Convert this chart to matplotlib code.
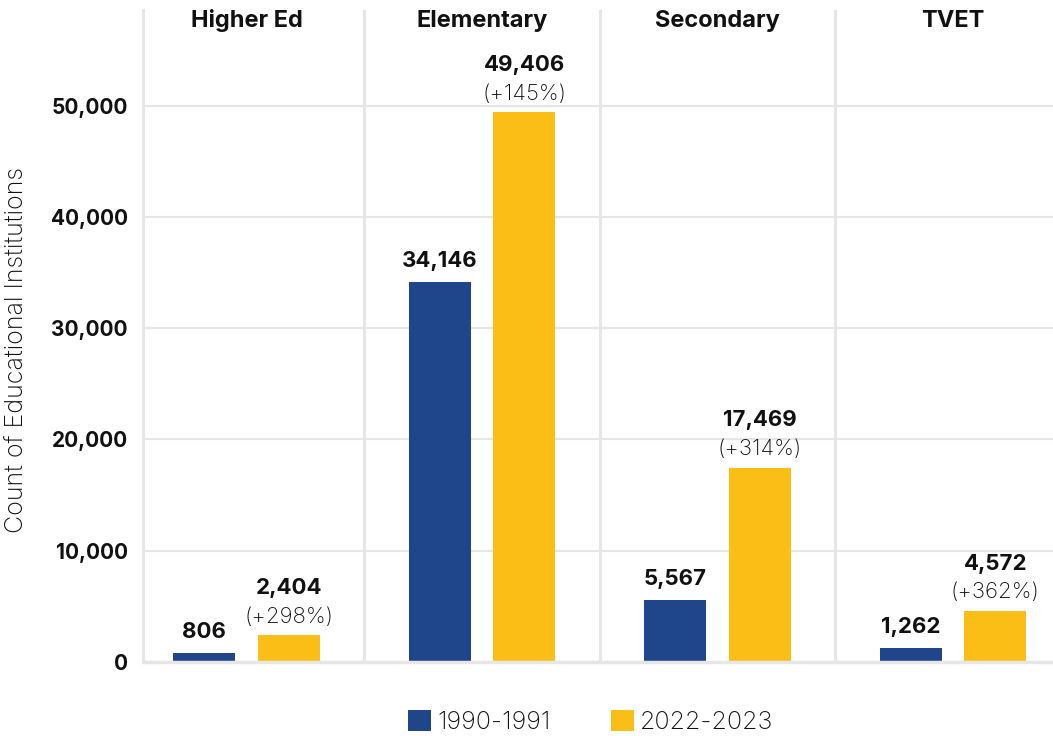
import matplotlib
matplotlib.use("Agg")
import matplotlib.pyplot as plt
from matplotlib.patches import Patch
import numpy as np

categories = ["Higher Ed", "Elementary", "Secondary", "TVET"]
series_names = ["1990-1991", "2022-2023"]
values_1990 = [806, 34146, 5567, 1262]
values_2022 = [2404, 49406, 17469, 4572]
pct_labels = ["(+298%)", "(+145%)", "(+314%)", "(+362%)"]
y_ticks = [0, 10000, 20000, 30000, 40000, 50000]

BLUE = "#1F458B"
YELLOW = "#FBBE16"
GRID = "#E6E6E6"
TEXT = "#111111"
FONT = ["Inter", "DejaVu Sans"]

plt.rcParams["font.family"] = FONT

fig = plt.figure(figsize=(10.53, 7.36), dpi=100)
ax = fig.add_axes([143 / 1053, 74 / 736, 910 / 1053, 652 / 736])

x = np.arange(len(categories))
offset = 0.18
width = 0.263

ax.bar(x - offset, values_1990, width, color=BLUE, zorder=3)
ax.bar(x + offset, values_2022, width, color=YELLOW, zorder=3)

ax.set_xlim(-0.44, 3.425)
ax.set_ylim(0, 58600)

# horizontal gridlines
ax.set_yticks(y_ticks)
ax.set_yticklabels([f"{v:,}" for v in y_ticks], fontsize=15, fontweight="bold", color=TEXT)
ax.yaxis.grid(True, color=GRID, linewidth=1.5, zorder=0)
ax.tick_params(axis="y", length=0, pad=11)
ax.set_xticks([])

# panel separators
for sep in x[:-1] + 0.5:
    ax.axvline(sep, color=GRID, linewidth=2.2, zorder=1)

for s in ["top", "right"]:
    ax.spines[s].set_visible(False)
ax.spines["left"].set_color(GRID)
ax.spines["left"].set_linewidth(2.2)
ax.spines["bottom"].set_color(GRID)
ax.spines["bottom"].set_linewidth(2.5)
ax.spines["bottom"].set_zorder(4)

# panel titles
for xi, name in zip(x, categories):
    ax.text(xi, 0.974, name, transform=ax.get_xaxis_transform(),
            ha="center", va="baseline", fontsize=17, fontweight="bold", color=TEXT)

# value labels
for xi, v0, v1, pct in zip(x, values_1990, values_2022, pct_labels):
    ax.annotate(f"{v0:,}", (xi - offset, v0), xytext=(0, 15), textcoords="offset points",
                ha="center", va="center", fontsize=16, fontweight="bold", color=TEXT)
    ax.annotate(pct, (xi + offset, v1), xytext=(0, 13.5), textcoords="offset points",
                ha="center", va="center", fontsize=16, fontweight="light", color=TEXT)
    ax.annotate(f"{v1:,}", (xi + offset, v1), xytext=(0, 34), textcoords="offset points",
                ha="center", va="center", fontsize=16, fontweight="bold", color=TEXT)

ax.set_ylabel("Count of Educational Institutions", fontsize=18, fontweight="light",
              color=TEXT, labelpad=0)
ax.yaxis.label.set_va("center")
ax.yaxis.set_label_coords(-126 / 910, (350 - 10) / 652 * -1 + 1)

handles = [Patch(facecolor=BLUE, edgecolor="none"), Patch(facecolor=YELLOW, edgecolor="none")]
leg = fig.legend(handles, series_names, loc="center", bbox_to_anchor=(591 / 1053, 1 - 722 / 736),
                 ncol=2, frameon=False, fontsize=18, handlelength=0.92, handleheight=0.92,
                 handletextpad=0.25, columnspacing=2.4, borderpad=0, borderaxespad=0)
for t in leg.get_texts():
    t.set_fontweight("light")
    t.set_color(TEXT)

fig.savefig("out.png", dpi=100)
